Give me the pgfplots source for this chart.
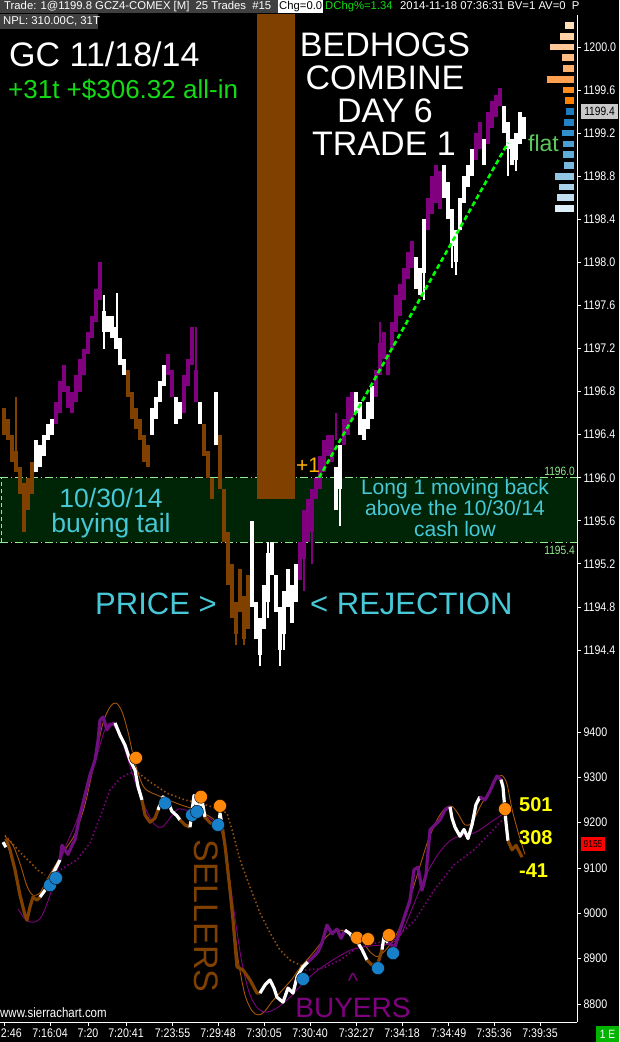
\documentclass[border=0pt]{standalone}
\usepackage{fontspec}
\setmainfont{Liberation Sans}
\newfontfamily\nar[FakeStretch=0.85]{Liberation Sans}
\usepackage{pgfplots}
\usepackage{pgfplotstable}
\pgfplotsset{compat=1.18}
\newcommand\fs[1]{\fontsize{#1}{#1}\selectfont}
\definecolor{cbrown}{RGB}{128,64,0}
\definecolor{cpurple}{RGB}{128,0,128}
\definecolor{tpurple}{RGB}{112,16,128}
\definecolor{thinbrown}{RGB}{165,85,10}
\definecolor{dotbrown}{RGB}{150,80,10}
\definecolor{corange}{RGB}{255,136,10}
\definecolor{cblue}{RGB}{24,128,200}
\definecolor{ccyan}{RGB}{70,200,215}
\definecolor{zonefill}{RGB}{0,36,6}
\definecolor{zoneline}{RGB}{144,238,144}
\definecolor{hdrgray}{RGB}{64,64,64}
\definecolor{cgreen}{RGB}{20,220,20}
\definecolor{flatgreen}{RGB}{90,200,90}
\definecolor{plusone}{RGB}{255,180,0}
\definecolor{cyellow}{RGB}{255,255,0}
\definecolor{tradegreen}{RGB}{0,255,0}
\definecolor{pricebox}{RGB}{200,200,200}

\pgfplotstableread{
x lo hi
4 1196.40 1196.65
8 1196.35 1196.55
12 1196.15 1196.40
16 1196.05 1196.25
20 1195.85 1196.10
24 1195.50 1195.95
28 1195.70 1196.00
32 1195.85 1196.15
128 1196.75 1197.00
132 1196.55 1196.80
136 1196.45 1196.65
140 1196.35 1196.55
144 1196.15 1196.40
148 1196.10 1196.30
204 1196.20 1196.50
208 1196.00 1196.25
212 1195.80 1196.00
220 1195.90 1196.40
224 1195.40 1195.90
228 1195.00 1195.50
232 1194.70 1195.20
236 1194.55 1194.85
240 1194.75 1195.15
244 1194.50 1194.90
248 1194.60 1195.10
}\tbrown

\pgfplotstableread{
x lo hi
56 1196.50 1196.70
60 1196.60 1196.90
64 1196.80 1197.05
68 1196.65 1196.85
72 1196.60 1196.80
76 1196.70 1196.95
80 1196.80 1197.10
84 1196.95 1197.20
88 1197.15 1197.35
92 1197.30 1197.50
96 1197.45 1197.75
100 1197.65 1198.00
168 1196.95 1197.15
172 1196.75 1197.00
184 1196.60 1196.95
188 1196.85 1197.10
192 1197.05 1197.40
196 1196.70 1197.00
300 1195.05 1195.40
304 1195.25 1195.70
308 1195.40 1195.80
312 1195.50 1195.90
316 1195.80 1196.00
320 1195.90 1196.20
324 1196.05 1196.35
328 1196.20 1196.40
332 1196.15 1196.40
344 1196.30 1196.55
348 1196.40 1196.75
352 1196.55 1196.80
376 1196.75 1197.00
380 1196.95 1197.25
384 1197.10 1197.35
388 1196.95 1197.15
392 1197.20 1197.45
396 1197.35 1197.70
400 1197.50 1197.80
404 1197.65 1197.95
408 1197.85 1198.10
412 1197.95 1198.20
428 1198.30 1198.60
432 1198.45 1198.80
436 1198.55 1198.90
440 1198.50 1198.85
476 1198.95 1199.20
480 1199.05 1199.30
488 1199.10 1199.40
492 1199.25 1199.50
496 1199.35 1199.55
500 1199.45 1199.62
}\tpurple

\pgfplotstableread{
x lo hi
36 1196.05 1196.35
40 1196.10 1196.30
44 1196.20 1196.40
48 1196.35 1196.50
52 1196.40 1196.55
104 1197.35 1197.55
108 1197.35 1197.50
112 1197.30 1197.50
116 1197.20 1197.40
120 1197.05 1197.30
124 1196.95 1197.10
152 1196.40 1196.65
156 1196.55 1196.75
160 1196.70 1196.90
164 1196.85 1197.05
176 1196.50 1196.75
180 1196.55 1196.70
200 1196.50 1196.70
216 1196.30 1196.80
252 1194.80 1195.60
256 1194.50 1194.85
260 1194.35 1194.70
264 1194.60 1195.00
268 1194.85 1195.30
272 1195.10 1195.40
276 1194.75 1195.10
280 1194.40 1194.80
284 1194.55 1194.95
288 1194.80 1195.15
292 1194.65 1195.00
296 1194.85 1195.20
336 1195.70 1196.10
340 1195.90 1196.30
356 1196.60 1196.80
360 1196.40 1196.70
364 1196.35 1196.55
368 1196.45 1196.70
372 1196.55 1196.85
416 1197.75 1198.05
420 1197.70 1197.95
424 1197.90 1198.40
444 1198.60 1198.90
448 1198.40 1198.75
452 1198.15 1198.50
456 1198.00 1198.30
460 1198.30 1198.60
464 1198.55 1198.80
468 1198.70 1198.90
472 1198.80 1199.05
484 1198.90 1199.15
504 1199.20 1199.45
508 1199.05 1199.30
512 1198.90 1199.15
516 1198.95 1199.20
520 1199.10 1199.40
524 1199.15 1199.35
}\twhite

% thin wicks
\pgfplotstableread{
x lo hi
104 1197.20 1197.70
117 1197.30 1197.72
260 1194.25 1194.60
268 1194.70 1195.40
280 1194.25 1194.50
284 1194.40 1194.60
340 1195.55 1196.00
424 1197.65 1197.90
452 1197.95 1198.20
456 1197.88 1198.05
508 1198.80 1199.10
516 1198.85 1199.00
}\wwhite
\pgfplotstableread{
x lo hi
236 1194.45 1194.60
244 1194.45 1194.55
16 1196.25 1196.75
}\wbrown
\pgfplotstableread{
x lo hi
196 1197.00 1197.40
304 1194.95 1195.30
312 1195.20 1195.50
380 1197.25 1197.45
336 1196.35 1196.60
}\wpurple

\newcommand{\hb}[4]{\addplot[fill=#4, draw=none] coordinates {(#1,#2) (573.7,#2) (573.7,#3) (#1,#3)} -- cycle;}
\newcommand{\pricebars}[3]{\addplot[draw=none, forget plot, error bars/.cd, y dir=plus, y explicit, error mark=none, error bar style={line width=#3, draw=#2, solid}] table[x=x, y=lo, y error expr=\thisrow{hi}-\thisrow{lo}] {#1};}

\begin{document}
\begin{tikzpicture}[x=1pt,y=1pt]
\useasboundingbox (0,0) rectangle (619,1042);
\clip (0,0) rectangle (619,1042);
\fill[black] (0,0) rectangle (619,1042);

% ---------------- price panel ----------------
\begin{axis}[
  at={(0pt,359pt)}, anchor=south west, scale only axis,
  width=577pt, height=668pt,
  xmin=0, xmax=577, ymin=1194.094, ymax=1200.297,
  axis x line=none, axis y line*=right,
  y axis line style={white, line width=1pt, -},
  xtick=\empty,
  ytick={1194.4,1194.8,1195.2,1195.6,1196.0,1196.4,1196.8,1197.2,1197.6,1198.0,1198.4,1198.8,1199.2,1199.6,1200.0},
  tick align=outside, major tick length=4pt,
  ytick style={white, line width=0.8pt},
  /pgf/number format/assume math mode=true,
  yticklabel style={text=white, font=\nar\fs{12.5}, xshift=-1pt,
    /pgf/number format/.cd, fixed, fixed zerofill, precision=1, 1000 sep={}},
]
% support zone
\addplot[fill=zonefill, draw=none] coordinates {(0,1195.4) (577,1195.4) (577,1196.0) (0,1196.0)} -- cycle;
\addplot[zoneline, line width=0.8pt, dash pattern=on 8pt off 3pt on 1pt off 3pt] coordinates {(0,1196.0) (577,1196.0)};
\addplot[zoneline, line width=0.8pt, dash pattern=on 8pt off 3pt on 1pt off 3pt] coordinates {(0,1195.4) (577,1195.4)};
\addplot[zoneline, line width=0.8pt, dash pattern=on 4pt off 3pt] coordinates {(1,1195.4) (1,1196.0)};
% brown block
\addplot[fill=cbrown, draw=none] coordinates {(257,1195.80) (295,1195.80) (295,1200.5) (257,1200.5)} -- cycle;
% price bars: wicks then bodies
\pricebars{\wbrown}{cbrown}{1.2pt}
\pricebars{\wpurple}{cpurple}{1.2pt}
\pricebars{\wwhite}{white}{1.2pt}
\pricebars{\tbrown}{cbrown}{3.4pt}
\pricebars{\tpurple}{cpurple}{3.4pt}
\pricebars{\twhite}{white}{3.4pt}
% trade line
\addplot[tradegreen, line width=2.6pt, dash pattern=on 5pt off 3pt] coordinates {(319,1196.0) (508,1199.11)};
% volume profile
\hb{565.0}{1200.169}{1200.231}{{rgb,255:red,255;green,222;blue,185}}
\hb{560.0}{1200.069}{1200.131}{{rgb,255:red,255;green,210;blue,165}}
\hb{550.0}{1199.969}{1200.031}{{rgb,255:red,255;green,200;blue,150}}
\hb{562.3}{1199.869}{1199.931}{{rgb,255:red,255;green,188;blue,130}}
\hb{563.3}{1199.769}{1199.831}{{rgb,255:red,255;green,175;blue,110}}
\hb{547.3}{1199.669}{1199.731}{{rgb,255:red,255;green,160;blue,80}}
\hb{563.3}{1199.569}{1199.631}{{rgb,255:red,255;green,140;blue,30}}
\hb{565.0}{1199.469}{1199.531}{{rgb,255:red,255;green,128;blue,0}}
\hb{566.0}{1199.369}{1199.431}{{rgb,255:red,28;green,124;blue,192}}
\hb{564.3}{1199.269}{1199.331}{{rgb,255:red,36;green,130;blue,196}}
\hb{562.3}{1199.169}{1199.231}{{rgb,255:red,48;green,144;blue,204}}
\hb{562.7}{1199.069}{1199.131}{{rgb,255:red,74;green,159;blue,212}}
\hb{563.3}{1198.969}{1199.031}{{rgb,255:red,96;green,172;blue,216}}
\hb{564.0}{1198.869}{1198.931}{{rgb,255:red,120;green,184;blue,222}}
\hb{555.0}{1198.769}{1198.831}{{rgb,255:red,144;green,198;blue,228}}
\hb{559.3}{1198.669}{1198.731}{{rgb,255:red,168;green,210;blue,234}}
\hb{557.3}{1198.569}{1198.631}{{rgb,255:red,192;green,222;blue,240}}
\hb{555.0}{1198.469}{1198.531}{{rgb,255:red,221;green,238;blue,248}}
\end{axis}

% ---------------- indicator panel ----------------
\begin{axis}[
  at={(0pt,20pt)}, anchor=south west, scale only axis,
  width=577pt, height=339pt,
  xmin=0, xmax=577, ymin=8760.3, ymax=9508.1,
  axis x line*=bottom, axis y line*=right,
  x axis line style={white, line width=1pt, -},
  y axis line style={white, line width=1pt, -},
  xtick={4,50,88,126,172.5,218,264,310,356.5,402,448.5,494,540},
  xticklabels={\makebox[0pt][l]{\hspace*{-3pt}2:46},7:16:04,7:20,7:20:41,7:23:55,7:29:48,7:30:05,7:30:40,7:32:27,7:34:18,7:34:49,7:35:36,7:39:35},
  ytick={8800,8900,9000,9100,9200,9300,9400},
  tick align=outside, major tick length=4pt,
  xtick style={white, line width=0.8pt},
  ytick style={white, line width=0.8pt},
  /pgf/number format/assume math mode=true,
  xticklabel style={text=white, font=\nar\fs{12.5}, yshift=1pt},
  yticklabel style={text=white, font=\nar\fs{12.5}, xshift=-1pt,
    /pgf/number format/.cd, fixed, precision=0, 1000 sep={}},
]
% dotted slow averages
\addplot[dotbrown, line width=1.6pt, dash pattern=on 1.5pt off 2.5pt] coordinates {(5,9172) (12,9155) (20,9135) (30,9113) (38,9095) (45,9085)};
\addplot[dotbrown, line width=1.6pt, dash pattern=on 1.5pt off 2.5pt] coordinates {(138,9310) (150,9290) (167,9265) (185,9250) (200,9243) (212,9235) (220,9228) (227,9221) (233,9177) (240,9118) (250,9058) (260,9001) (270,8957) (280,8919) (290,8897) (300,8886) (307,8882)};
\addplot[cpurple, line width=1.6pt, dash pattern=on 1.5pt off 2.5pt] coordinates {(50,9085) (57,9091) (67,9105) (77,9118) (90,9155) (100,9212) (110,9272) (120,9298) (130,9310) (137,9310)};
\addplot[cpurple, line width=1.6pt, dash pattern=on 1.5pt off 2.5pt] coordinates {(305,8875) (323,8879) (340,8897) (357,8924) (377,8935) (395,8943) (415,8985) (434,9051) (454,9107) (474,9140) (493,9184) (505,9212)};
% thin averages
\addplot[thinbrown, line width=0.9pt, smooth] coordinates {(5,9170) (13,9150) (20,9110) (27,9060) (33,9040) (40,9045) (47,9075) (55,9105) (65,9140) (75,9175) (85,9240) (95,9340) (103,9420) (110,9455) (116,9464) (122,9445) (128,9400) (133,9350) (138,9310) (145,9275) (160,9258) (180,9240) (200,9225) (215,9205) (222,9180) (227,9120) (232,9020) (238,8900) (245,8820) (252,8785) (258,8776) (264,8782) (272,8805) (282,8830) (292,8855) (300,8880) (312,8910) (325,8945) (335,8962) (348,8960) (360,8945) (370,8915) (378,8905) (388,8925) (398,8960) (408,9020) (418,9090) (428,9160) (438,9210) (446,9233) (452,9236) (458,9220) (465,9195) (472,9200) (480,9235) (488,9265) (496,9295) (502,9304) (507,9285) (512,9230) (518,9180) (525,9130)};
\addplot[cpurple, line width=0.9pt, smooth] coordinates {(18,9010) (26,8985) (35,8981) (42,8995) (50,9040) (58,9100) (66,9150) (76,9200) (86,9265) (96,9340) (104,9400) (110,9420) (118,9400) (125,9360) (132,9310) (140,9260) (148,9220) (155,9195) (162,9190) (170,9210) (178,9230) (190,9225) (205,9215) (215,9200) (222,9175) (228,9100) (235,8990) (242,8890) (250,8820) (258,8790) (266,8782) (276,8790) (290,8815) (305,8850) (318,8875) (335,8900) (352,8920) (370,8928) (388,8932) (400,8950) (412,9010) (425,9080) (438,9130) (450,9160) (462,9172) (475,9178) (490,9200) (505,9222)};
% thick main line
\addplot[white, line width=3.2pt, line join=round] coordinates {(3,9157) (6,9146)};
\addplot[cbrown, line width=3.2pt, line join=round] coordinates {(6,9165) (10,9140) (15,9096) (20,9040) (25,8996) (27,8985) (30,9014) (33,9036) (37,9029) (40,9036)};
\addplot[white, line width=3.2pt, line join=round] coordinates {(40,9036) (45,9051) (50,9075) (55,9096) (60,9118)};
\addplot[tpurple, line width=3.2pt, line join=round] coordinates {(60,9118) (62,9150) (65,9140) (68,9130) (72,9150) (75,9162) (80,9217) (85,9261) (90,9305) (95,9338) (98,9380) (100,9426) (103,9433) (107,9405) (110,9415) (115,9420)};
\addplot[white, line width=3.2pt, line join=round] coordinates {(115,9420) (120,9393) (125,9371) (130,9338) (135,9316) (138,9280) (142,9250)};
\addplot[cbrown, line width=3.2pt, line join=round] coordinates {(142,9250) (145,9217) (150,9201) (155,9210) (158,9228)};
\addplot[white, line width=3.2pt, line join=round] coordinates {(158,9228) (163,9257) (167,9250) (172,9225) (177,9215) (180,9206)};
\addplot[cbrown, line width=3.2pt, line join=round] coordinates {(180,9206) (185,9195) (190,9190)};
\addplot[white, line width=3.2pt, line join=round] coordinates {(190,9190) (194,9260) (198,9230) (202,9250) (205,9212)};
\addplot[cbrown, line width=3.2pt, line join=round] coordinates {(205,9212) (210,9200) (215,9195) (219,9190)};
\addplot[white, line width=3.2pt, line join=round] coordinates {(219,9190) (220,9221) (222,9195)};
\addplot[cbrown, line width=3.2pt, line join=round] coordinates {(222,9195) (225,9150) (227,9111) (230,9051) (233,8985) (237,8882) (243,8875) (250,8853) (257,8824) (260,8824)};
\addplot[white, line width=3.2pt, line join=round] coordinates {(260,8824) (265,8842) (270,8853) (274,8835) (277,8815) (283,8804) (288,8835) (293,8824) (297,8860) (303,8882) (308,8893)};
\addplot[tpurple, line width=3.2pt, line join=round] coordinates {(308,8893) (312,8901) (318,8915) (322,8935) (327,8974) (332,8955) (337,8965) (341,8945) (345,8963)};
\addplot[white, line width=3.2pt, line join=round] coordinates {(345,8963) (350,8955) (354,8940) (358,8935) (362,8920) (367,8897)};
\addplot[cbrown, line width=3.2pt, line join=round] coordinates {(367,8897) (372,8886) (378,8890) (382,8920)};
\addplot[white, line width=3.2pt, line join=round] coordinates {(382,8920) (384,8948) (388,8935)};
\addplot[tpurple, line width=3.2pt, line join=round] coordinates {(388,8935) (395,8926) (400,8963) (405,8996) (410,9029) (414,9096) (418,9102) (422,9051) (426,9085) (430,9184) (435,9195) (440,9206) (445,9228) (450,9235)};
\addplot[white, line width=3.2pt, line join=round] coordinates {(450,9235) (452,9210) (455,9190) (460,9170) (464,9185) (468,9165) (472,9195) (476,9240) (480,9257)};
\addplot[tpurple, line width=3.2pt, line join=round] coordinates {(480,9257) (485,9250) (490,9270) (494,9290) (497,9303) (501,9295)};
\addplot[white, line width=3.2pt, line join=round] coordinates {(501,9295) (503,9279) (506,9200) (508,9160)};
\addplot[cbrown, line width=3.2pt, line join=round] coordinates {(508,9160) (512,9140) (516,9150) (520,9133) (522,9124)};
% signal dots
\addplot[only marks, mark=*, mark size=6.5pt, mark options={fill=cblue, draw=none}] coordinates {(50,9062) (56,9078) (165,9243) (192,9217) (197,9224) (218,9195) (303,8855) (378,8879) (393,8912)};
\addplot[only marks, mark=*, mark size=6.5pt, mark options={fill=corange, draw=none}] coordinates {(136,9343) (201,9257) (220,9237) (357,8946) (368,8943) (389,8952) (505,9230)};
\end{axis}

% ---------------- header ----------------
\fill[hdrgray] (0,1029) rectangle (278,1042);
\node[anchor=base west, inner sep=0, text=white, font=\fs{11.3}] at (4,1032) {Trade: 1@1199.8 GCZ4-COMEX [M]\ \ 25 Trades\ \ \#15};
\fill[white] (278,1029) rectangle (323,1042);
\begin{scope}
\clip (278,1029) rectangle (323,1042);
\node[anchor=base west, inner sep=0, text=black, font=\fs{11.3}] at (279,1032) {Chg=0.0};
\end{scope}
\node[anchor=base west, inner sep=0, text=cgreen, font=\fs{11.3}] at (325,1032) {DChg\%=1.34};
\node[anchor=base west, inner sep=0, text=white, font=\fs{11.3}] at (400,1032) {2014-11-18 07:36:31 BV=1 AV=0\ \ P};
\fill[hdrgray] (0,1013) rectangle (98,1028);
\node[anchor=base west, inner sep=0, text=white, font=\fs{11.3}] at (3,1017) {NPL: 310.00C, 31T};

% ---------------- annotations ----------------
\node[anchor=base west, inner sep=0, text=white, font=\fs{34}] at (9,975) {GC 11/18/14};
\node[anchor=base west, inner sep=0, text=cgreen, font=\fs{26}] at (8,943) {+31t +\$306.32 all-in};
\node[anchor=base, inner sep=0, text=white, font=\fs{34}] at (385,985) {BEDHOGS};
\node[anchor=base, inner sep=0, text=white, font=\fs{34}] at (385,952) {COMBINE};
\node[anchor=base, inner sep=0, text=white, font=\fs{34}] at (385,919) {DAY 6};
\node[anchor=base, inner sep=0, text=white, font=\fs{34}] at (384,886) {TRADE 1};
\node[anchor=base west, inner sep=0, text=flatgreen, font=\fs{23}] at (528,890) {flat};
\node[anchor=base west, inner sep=0, text=plusone, font=\fs{21}] at (296,569) {+1};
\node[anchor=base, inner sep=0, text=ccyan, font=\fs{26.5}] at (111,534) {10/30/14};
\node[anchor=base, inner sep=0, text=ccyan, font=\fs{26.5}] at (111,509) {buying tail};
\node[anchor=base, inner sep=0, text=ccyan, font=\fs{21}] at (455,547) {Long 1 moving back};
\node[anchor=base, inner sep=0, text=ccyan, font=\fs{21}] at (455,526) {above the 10/30/14};
\node[anchor=base, inner sep=0, text=ccyan, font=\fs{21}] at (455,505) {cash low};
\node[anchor=base east, inner sep=0, text=zoneline, font=\nar\fs{12}] at (575,566) {1196.0};
\node[anchor=base east, inner sep=0, text=zoneline, font=\nar\fs{12}] at (575,487) {1195.4};
\node[anchor=base west, inner sep=0, text=ccyan, font=\fs{31}] at (95,427) {PRICE >};
\node[anchor=base west, inner sep=0, text=ccyan, font=\fs{31}] at (310,427) {< REJECTION};
\node[rotate=-90, inner sep=0, text=cbrown, font=\fs{34}] at (206,126) {SELLERS};
\node[anchor=base, inner sep=0, text=cpurple, font=\fs{22}] at (353,53) {\^{}};
\node[anchor=base, inner sep=0, text=cpurple, font=\fs{28}] at (353,24) {BUYERS};
\node[anchor=base west, inner sep=0, text=cyellow, font=\bfseries\fs{20}] at (519,230) {501};
\node[anchor=base west, inner sep=0, text=cyellow, font=\bfseries\fs{20}] at (519,197) {308};
\node[anchor=base west, inner sep=0, text=cyellow, font=\bfseries\fs{20}] at (519,164) {-41};
\node[anchor=base west, inner sep=0, text=white, font=\nar\fs{13.5}] at (0,24) {www.sierrachart.com};
% right-hand value boxes
\node[fill=pricebox, text=black, inner sep=0, minimum width=37pt, minimum height=15pt, font=\nar\fs{12}] at (599.5,930.5) {1199.4};
\node[fill=red, text=black, inner sep=0, minimum width=24pt, minimum height=14pt, font=\nar\fs{10}] at (593,198) {9155};
\node[fill={rgb,255:red,0;green,180;blue,0}, text=white, inner sep=0, minimum width=23pt, minimum height=16pt, font=\nar\fs{12}] at (607.5,8) {1 E};
\end{tikzpicture}
\end{document}
